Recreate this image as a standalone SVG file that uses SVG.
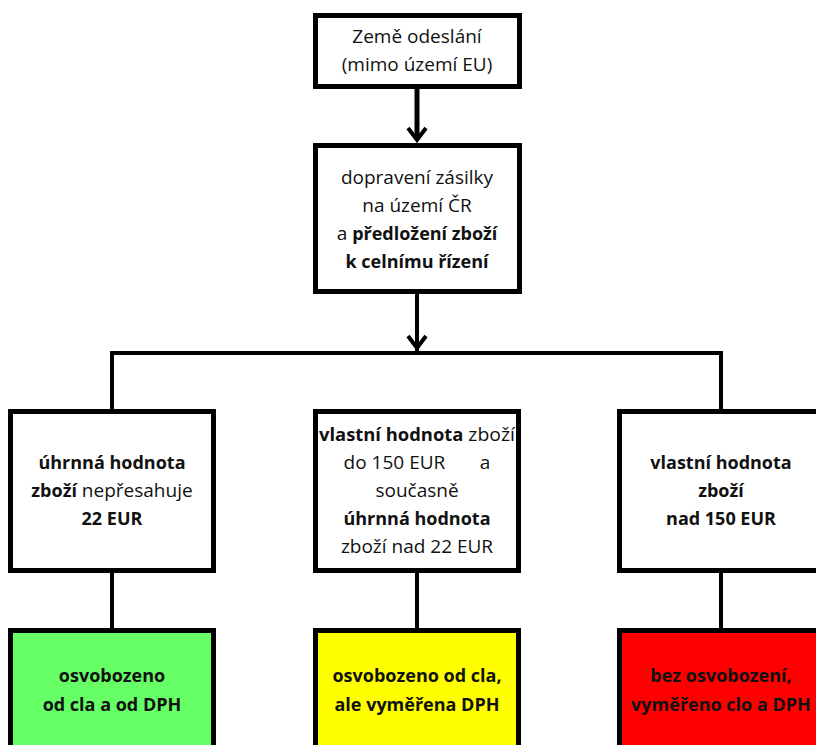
<svg xmlns="http://www.w3.org/2000/svg" width="816" height="745" viewBox="0 0 816 745">
<style>
.box{fill:#fff;stroke:#000;stroke-width:5}
.line{fill:none;stroke:#000;stroke-width:4}
.thick{stroke-width:5}
.head{fill:none;stroke:#000;stroke-width:4;stroke-linecap:butt;stroke-linejoin:miter}
text{font-family:"Open Sans",Lato,"Liberation Sans",sans-serif;font-size:19px;fill:#111;text-anchor:middle}
.b{font-weight:bold;font-size:18px}
</style>
<rect width="816" height="745" fill="#fff"/>
<g id="connectors">
<line class="line thick" x1="417" y1="88" x2="417" y2="140"/>
<polyline class="head" points="408,128 417,140 426,128"/>
<line class="line" x1="417" y1="294" x2="417" y2="353"/>
<polyline class="head" points="408,336 417,348 426,336"/>
<polyline class="line" points="112,409 112,353 721,353 721,409"/>
<line class="line" x1="112" y1="572" x2="112" y2="629"/>
<line class="line" x1="417" y1="572" x2="417" y2="629"/>
<line class="line" x1="721" y1="572" x2="721" y2="629"/>
</g>
<g id="n1">
<rect class="box" x="315.5" y="15.5" width="204" height="71"/>
<text x="417" y="43">Země odeslání</text>
<text x="417" y="71">(mimo území EU)</text>
</g>
<g id="n2">
<rect class="box" x="315.5" y="145.5" width="204" height="146"/>
<text x="417" y="184">dopravení zásilky</text>
<text x="417" y="212">na území ČR</text>
<text x="417" y="240">a <tspan class="b">předložení zboží</tspan></text>
<text x="417" y="268" class="b">k celnímu řízení</text>
</g>
<g id="n3">
<rect class="box" x="10.5" y="411.5" width="203" height="159"/>
<text x="112" y="469" class="b">úhrnná hodnota</text>
<text x="112" y="497"><tspan class="b">zboží</tspan> nepřesahuje</text>
<text x="112" y="525" class="b">22 EUR</text>
</g>
<g id="n4">
<rect class="box" x="315.5" y="411.5" width="203" height="159"/>
<text x="417" y="441" textLength="196" lengthAdjust="spacingAndGlyphs"><tspan class="b">vlastní hodnota</tspan> zboží</text>
<text x="417" y="469" xml:space="preserve">do 150 EUR       a</text>
<text x="417" y="497">současně</text>
<text x="417" y="525" class="b">úhrnná hodnota</text>
<text x="417" y="553">zboží nad 22 EUR</text>
</g>
<g id="n5">
<rect class="box" x="619.5" y="411.5" width="203" height="159"/>
<text x="721" y="469" class="b">vlastní hodnota</text>
<text x="721" y="497" class="b">zboží</text>
<text x="721" y="525" class="b">nad 150 EUR</text>
</g>
<g id="n6">
<rect class="box" x="10.5" y="630.5" width="203" height="130" style="fill:#66ff66"/>
<text x="112" y="682" class="b">osvobozeno</text>
<text x="112" y="711" class="b">od cla a od DPH</text>
</g>
<g id="n7">
<rect class="box" x="315.5" y="630.5" width="203" height="130" style="fill:#ffff00"/>
<text x="417" y="682" class="b">osvobozeno od cla,</text>
<text x="417" y="711" class="b">ale vyměřena DPH</text>
</g>
<g id="n8">
<rect class="box" x="619.5" y="630.5" width="203" height="130" style="fill:#ff0000"/>
<text x="721" y="682" class="b">bez osvobození,</text>
<text x="721" y="711" class="b">vyměřeno clo a DPH</text>
</g>
</svg>
